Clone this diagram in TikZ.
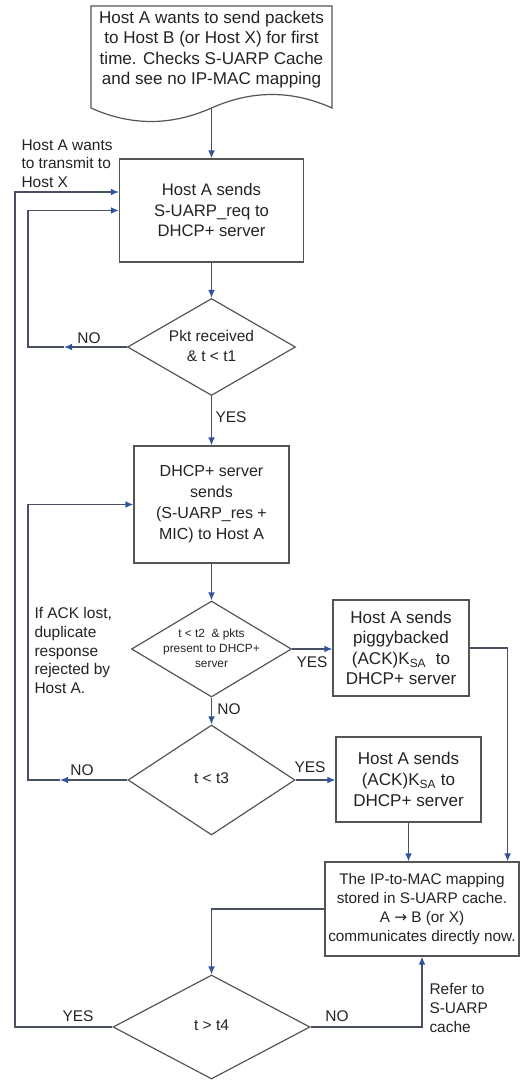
\documentclass[tikz,border=0pt]{standalone}
\usepackage{fontspec}
\setmainfont{Liberation Sans}
\newfontfamily\arrowfont{DejaVu Sans}
\usetikzlibrary{shapes.geometric,arrows.meta,calc}
\definecolor{edgegray}{RGB}{85,85,85}
\definecolor{wiregray}{RGB}{72,80,98}
\definecolor{tipblue}{RGB}{47,85,160}
\definecolor{inkgray}{RGB}{35,35,35}
\tikzset{every picture/.style={line width=0.75pt}}
\tikzset{
  stepbox/.style={draw=edgegray, line width=0.9pt, align=center, inner sep=1.5pt, text=inkgray},
  decision/.style={diamond, draw=edgegray, line width=0.9pt, inner sep=0pt, text=inkgray},
  flow/.style={draw=wiregray, line width=0.9pt, -{Latex[length=6pt,width=5pt,color=tipblue]}},
  lbl/.style={text=inkgray, inner sep=0.75pt, font=\fontsize{11.6}{14}\selectfont},
}
\newcommand{\dtext}[1]{\smash{\raisebox{-0.26em}{\makebox[0pt]{\begin{tabular}{@{}c@{}}#1\end{tabular}}}}}

\begin{document}
\begin{tikzpicture}[x=0.75pt,y=0.75pt,yscale=-1,xscale=1]
\useasboundingbox (0,0) rectangle (520,1080);

%Shape: Document
\draw[draw=edgegray, line width=0.9pt] (91,6) -- (332,6) -- (332,108) .. controls (292,90) and (252,90) .. (211.5,108) .. controls (171,126) and (131,126) .. (91,108) -- cycle;
\coordinate (docTip) at (211.5,108);
% Text Node
\node[text=inkgray, align=center, font=\fontsize{12.8}{15.4}\selectfont] (doc) at (211.5,49.5) {Host A wants to send packets\\to Host B (or Host X) for first\\time. Checks S-UARP Cache\\and see no IP-MAC mapping};

%Process boxes and decisions
\node[stepbox, minimum width=138pt, minimum height=77.25pt, font=\fontsize{12.5}{15.4}\selectfont] (sendReq) at (211.5,210.5) {Host A sends\\S-UARP\_req to\\DHCP+ server};
\node[decision, minimum width=126pt, minimum height=72.75pt, font=\fontsize{11.6}{15}\selectfont] (pktRecv) at (211.5,347) {\dtext{Pkt received\\\& t < t1}};
\node[stepbox, minimum width=116.25pt, minimum height=87.75pt, font=\fontsize{12}{15.75}\selectfont] (serverRes) at (211.5,504.5) {DHCP+ server\\sends\\(S-UARP\_res +\\MIC) to Host A};
\node[decision, minimum width=120pt, minimum height=72pt, font=\fontsize{8.9}{11.25}\selectfont] (pktsPresent) at (211.5,649) {\dtext{t < t2~~\& pkts\\present to DHCP+\\server}};
\node[stepbox, minimum width=102pt, minimum height=72pt, font=\fontsize{12.8}{15.4}\selectfont] (piggyAck) at (401,648) {Host A sends\\piggybacked\\(ACK)K\textsubscript{SA}~~to\\DHCP+ server};
\node[decision, minimum width=125.25pt, minimum height=82.5pt, font=\fontsize{11.6}{14}\selectfont] (ackTime) at (211.5,780) {\dtext{t < t3}};
\node[stepbox, minimum width=108.75pt, minimum height=63.75pt, font=\fontsize{12.8}{15.75}\selectfont] (sendAck) at (408.5,779.5) {Host A sends\\(ACK)K\textsubscript{SA} to\\DHCP+ server};
\node[stepbox, inner xsep=0.75pt, minimum width=145.5pt, minimum height=70.5pt, font=\fontsize{11.5}{14.2}\selectfont] (cacheMap) at (422,909) {The IP-to-MAC mapping\\stored in S-UARP cache.\\A {\arrowfont →} B (or X)\\communicates directly now.};
\node[decision, minimum width=147.75pt, minimum height=78pt, font=\fontsize{11.6}{14}\selectfont] (expiry) at (211.5,1027) {\dtext{t > t4}};

%Turning points
\coordinate (noMid1) at (64,347);
\coordinate (noTurn1) at (28,347);
\coordinate (noMid3) at (60,780);
\coordinate (noTurn3) at (28,780);
\coordinate (yesTurn4) at (15,1027);

%Connectors
\draw[flow] (docTip) -- (docTip |- sendReq.north);
\draw[flow] (sendReq.south) -- (pktRecv.north);
\draw[flow] (pktRecv.south) -- (serverRes.north);
\draw[flow] (pktRecv.west) -- (noMid1);
\draw[flow] (noMid1) -- (noTurn1) |- (sendReq.west);
\draw[flow] (serverRes.south) -- (pktsPresent.north);
\draw[flow] (pktsPresent.east) -- (pktsPresent.east -| piggyAck.west);
\draw[flow] (piggyAck.east) -| ($(cacheMap.north east)+(-12,0)$);
\draw[flow] (pktsPresent.south) -- (ackTime.north);
\draw[flow] (ackTime.east) -- (ackTime.east -| sendAck.west);
\draw[flow] (ackTime.west) -- (noMid3);
\draw[flow] (noMid3) -- (noTurn3) |- (serverRes.west);
\draw[flow] (sendAck.south) -- (sendAck.south |- cacheMap.north);
\draw[flow] (cacheMap.west) -| (expiry.north);
\draw[flow] (expiry.east) -| (cacheMap.south);
\draw[flow] (expiry.west) -- (yesTurn4) |- ($(sendReq.west)+(0,-18.5)$);

% Text Node
\node[lbl, anchor=west, align=left] (hostXNote) at (20,163.5) {Host A wants\\to transmit to\\Host X};
\node[lbl] (noLbl1) at (89,338) {NO};
\node[lbl] (yesLbl1) at (231,417) {YES};
\node[lbl, anchor=west, align=left] (ackLostNote) at (33,650.5) {If ACK lost,\\duplicate\\response\\rejected by\\Host A.};
\node[lbl] (yesLbl2) at (312,662) {YES};
\node[lbl] (noLbl2) at (229,709) {NO};
\node[lbl] (noLbl3) at (82,770) {NO};
\node[lbl] (yesLbl3) at (310,767) {YES};
\node[lbl] (yesLbl4) at (78,1016) {YES};
\node[lbl] (noLbl4) at (337,1016) {NO};
\node[lbl, anchor=west, align=left] (referNote) at (428,1008) {Refer to\\S-UARP\\cache};

\end{tikzpicture}
\end{document}
